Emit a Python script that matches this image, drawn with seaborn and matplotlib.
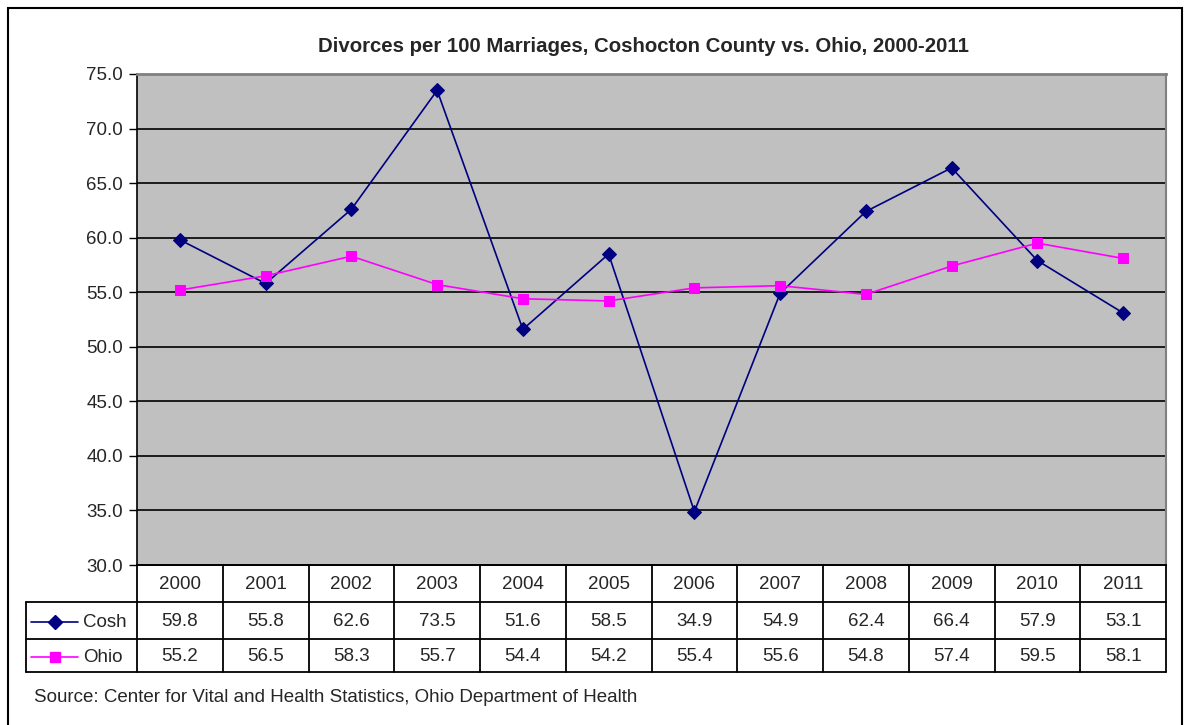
import numpy as np
import pandas as pd
import matplotlib
matplotlib.use("Agg")
import matplotlib.pyplot as plt
import seaborn as sns
from matplotlib.patches import Rectangle
from matplotlib.lines import Line2D

# Daten aus der Grafik
years = ["2000", "2001", "2002", "2003", "2004", "2005",
         "2006", "2007", "2008", "2009", "2010", "2011"]
cosh = [59.8, 55.8, 62.6, 73.5, 51.6, 58.5, 34.9, 54.9, 62.4, 66.4, 57.9, 53.1]
ohio = [55.2, 56.5, 58.3, 55.7, 54.4, 54.2, 55.4, 55.6, 54.8, 57.4, 59.5, 58.1]
series_names = ["Cosh", "Ohio"]
y_ticks = [30.0, 35.0, 40.0, 45.0, 50.0, 55.0, 60.0, 65.0, 70.0, 75.0]
title = "Divorces per 100 Marriages, Coshocton County vs. Ohio, 2000-2011"
source = "Source: Center for Vital and Health Statistics, Ohio Department of Health"

sns.set_style("white")
plt.rcParams['font.family'] = ['Liberation Sans', 'DejaVu Sans']

W, H = 1185, 725
FS = 13.5
fig = plt.figure(figsize=(W / 100, H / 100), dpi=100)


def fx(px):
    return px / W


def fy(py):
    return 1 - py / H


# Rahmen aussen (unten offen, geht ueber den Bildrand hinaus)
fig.patches.append(Rectangle((fx(8), fy(740)), fx(1182) - fx(8), fy(8) - fy(740),
                             transform=fig.transFigure, fill=False,
                             edgecolor='black', linewidth=1.5))

# Diagrammbereich
left, right, top, bottom = 137, 1166, 74, 565
ax = fig.add_axes([fx(left), fy(bottom), fx(right) - fx(left), fy(top) - fy(bottom)])
ax.set_facecolor('#C0C0C0')

df = pd.DataFrame({
    'pos': list(range(len(years))) * 2,
    'value': cosh + ohio,
    'series': [series_names[0]] * len(years) + [series_names[1]] * len(years),
})

colors = {'Cosh': '#000080', 'Ohio': '#FF00FF'}
markers = {'Cosh': 'D', 'Ohio': 's'}
sizes = {'Cosh': 7, 'Ohio': 6.5}

for name in series_names:
    sub = df[df['series'] == name]
    sns.lineplot(data=sub, x='pos', y='value', ax=ax, color=colors[name],
                 marker=markers[name], markersize=sizes[name],
                 markeredgecolor=colors[name], linewidth=1.2, zorder=3, legend=False)

ax.set_xlim(-0.5, len(years) - 0.5)
ax.set_ylim(30, 75)
ax.set_yticks(y_ticks)
ax.set_yticklabels([f"{v:.1f}" for v in y_ticks], fontsize=FS)
ax.set_xticks([])
ax.set_xlabel('')
ax.set_ylabel('')
ax.tick_params(axis='y', direction='out', length=6, width=1, color='black', pad=4, left=True)
for v in y_ticks[1:-1]:
    ax.axhline(v, color='black', linewidth=1.2, zorder=1)

ax.spines['left'].set_color('black')
ax.spines['left'].set_linewidth(1.2)
ax.spines['bottom'].set_color('black')
ax.spines['bottom'].set_linewidth(1.2)
ax.spines['top'].set_color('#808080')
ax.spines['top'].set_linewidth(2)
ax.spines['right'].set_color('#808080')
ax.spines['right'].set_linewidth(1.5)

fig.text(fx(644), fy(46), title, ha='center', va='center',
         fontsize=14.7, fontweight='bold')

# Datentabelle
tab_left = 26
row_y = [565, 602, 639, 672]
cell_w = (right - left) / len(years)
lw = 1.3

tab = fig.add_axes([0, 0, 1, 1], facecolor='none')
tab.set_xlim(0, W)
tab.set_ylim(H, 0)
tab.axis('off')

# horizontale Linien
tab.plot([left, right], [row_y[0], row_y[0]], color='black', lw=lw)
for yy in row_y[1:]:
    tab.plot([tab_left, right], [yy, yy], color='black', lw=lw)
# vertikale Linien
tab.plot([tab_left, tab_left], [row_y[1], row_y[3]], color='black', lw=lw)
for i in range(len(years) + 1):
    xx = left + i * cell_w
    tab.plot([xx, xx], [row_y[0], row_y[3]], color='black', lw=lw)

for i, yr in enumerate(years):
    cx = left + (i + 0.5) * cell_w
    tab.text(cx, (row_y[0] + row_y[1]) / 2 + 1, yr, ha='center', va='center', fontsize=FS)
    tab.text(cx, (row_y[1] + row_y[2]) / 2 + 1, f"{cosh[i]:.1f}", ha='center', va='center', fontsize=FS)
    tab.text(cx, (row_y[2] + row_y[3]) / 2 + 1, f"{ohio[i]:.1f}", ha='center', va='center', fontsize=FS)

# Legendenschluessel in der Tabelle
for r, name in enumerate(series_names):
    cy = (row_y[r + 1] + row_y[r + 2]) / 2 + 1
    tab.add_line(Line2D([31, 78], [cy, cy], color=colors[name], lw=1.2))
    tab.add_line(Line2D([55], [cy], color=colors[name], marker=markers[name],
                        markersize=sizes[name], markeredgecolor=colors[name]))
    tab.text(83, cy + 1, name, ha='left', va='center', fontsize=FS)

fig.text(fx(34), fy(697), source, ha='left', va='center', fontsize=FS)

fig.savefig('out.png', dpi=100, facecolor='white')
